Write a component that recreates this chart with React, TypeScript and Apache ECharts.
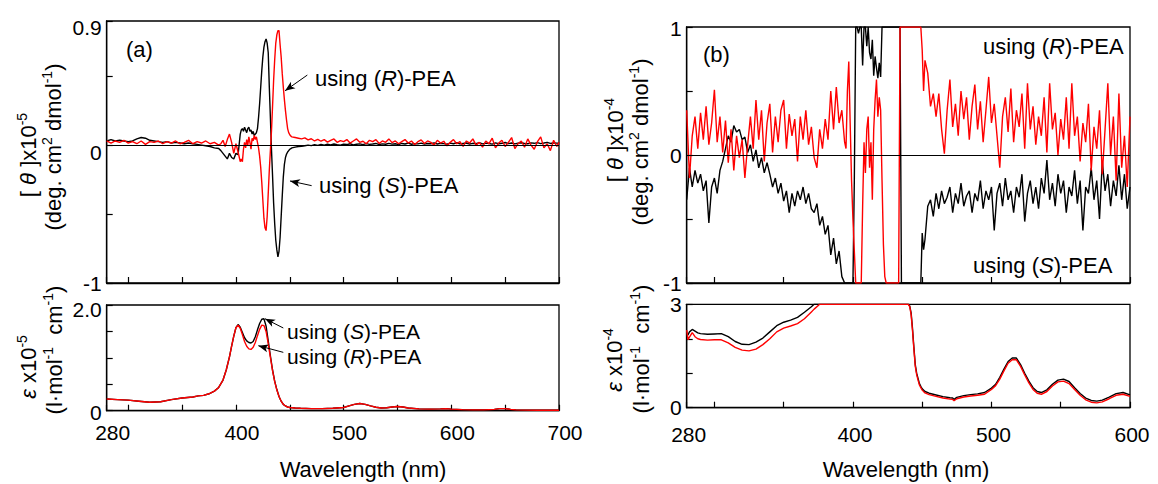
import React, { useEffect, useRef } from 'react';
import * as echarts from 'echarts';

const FONT = '"Liberation Sans", Arial, sans-serif';
const FS = 22;
const TFS = 21;

// ---------- Panel (a) CD ----------
const WL_A_CD = [
  280, 284, 288, 292, 296, 300, 304, 308, 312, 316, 320, 324, 328, 332, 336, 340, 344, 348, 352, 356, 360, 364, 368, 372, 376, 380, 384,
  386, 388, 390, 392, 394, 396, 398, 400, 402, 404,
  405, 406, 407, 408, 409, 410, 411, 412, 413, 414, 415, 416, 417, 418, 419, 420, 421, 422, 423, 424,
  425, 426, 427, 428, 429, 430, 431, 432, 433, 434, 435, 436, 437, 438, 439, 440, 441, 442, 443, 444,
  445, 446, 447, 448, 449, 450, 451, 452,
  455, 458, 461, 464, 467, 470, 473, 476, 479, 482, 485, 488, 491, 494, 497, 500, 503, 506, 509, 512,
  515, 518, 521, 524, 527, 530, 533, 536, 539, 542, 545, 548, 551, 554, 557, 560, 563, 566, 569, 572,
  575, 578, 581, 584, 587, 590, 593, 596, 599, 602, 605, 608, 611, 614, 617, 620, 623, 626, 629, 632,
  635, 638, 641, 644, 647, 650, 653, 656, 659, 662, 665, 668, 671, 674, 677, 680, 683, 686, 689, 692,
  695, 698, 700,
];
const A_CD_S = [
  0.03, 0.04, 0.03, 0.035, 0.03, 0.025, 0.03, 0.045, 0.055, 0.05, 0.035, 0.03, 0.025, 0.02, 0.025, 0.015, 0.02, 0.015, 0.01, 0.015, 0.01, 0.005, 0.0, -0.005, -0.01, -0.02, -0.025,
  -0.04, -0.06, -0.08, -0.1, -0.06, -0.09, -0.1, -0.06, -0.07, 0.08,
  0.11, 0.12, 0.1, 0.13, 0.11, 0.09, 0.12, 0.13, 0.1, 0.11, 0.08, 0.1, 0.07, 0.08, 0.09, 0.12, 0.2, 0.3, 0.42, 0.54,
  0.64, 0.71, 0.75, 0.77, 0.74, 0.67, 0.42, 0.2, -0.03, -0.22, -0.42, -0.57, -0.69, -0.76, -0.81, -0.77, -0.67, -0.52, -0.37, -0.23,
  -0.14, -0.09, -0.065, -0.05, -0.04, -0.03, -0.025, -0.02,
  -0.015, -0.01, -0.008, -0.005, 0.0, -0.004, 0.003, -0.002, 0.005, 0.0,
  0.006, 0.002, 0.008, 0.003, 0.0, 0.007, 0.004, 0.01, 0.002, 0.006,
  0.009, 0.003, 0.011, 0.005, 0.008, 0.012, 0.004, 0.009, 0.006, 0.013,
  0.007, 0.01, 0.004, 0.012, 0.008, 0.015, 0.006, 0.011, 0.009, 0.014,
  0.007, 0.012, 0.01, 0.016, 0.008, 0.013, 0.011, 0.006, 0.014, 0.01,
  0.017, 0.009, 0.012, 0.015, 0.008, 0.013, 0.011, 0.018, 0.009, 0.014,
  0.012, 0.007, 0.016, 0.01, 0.013, 0.019, 0.011, 0.015, 0.009, 0.014,
  0.017, 0.012, 0.01, 0.016, 0.013, 0.018, 0.011, 0.015, 0.02, 0.012,
  0.016, 0.014, 0.013,
];
const A_CD_R = [
  0.03, 0.015, 0.03, 0.02, 0.035, 0.015, 0.025, 0.01, 0.03, 0.005, 0.025, 0.02, 0.03, 0.01, 0.025, 0.015, 0.03, 0.01, 0.02, 0.035, 0.01, 0.025, 0.015, 0.03, 0.01, 0.02, 0.0,
  0.01, 0.035, -0.01, 0.04, 0.08, 0.02, -0.06, 0.01, -0.05, -0.12,
  -0.1, -0.12, -0.03, 0.02, -0.02, 0.04, 0.0, 0.06, 0.02, -0.03, 0.05, 0.03, 0.07, 0.04, 0.06, 0.02, -0.02, -0.08, -0.16, -0.27,
  -0.4, -0.53, -0.6, -0.62, -0.52, -0.35, -0.18, -0.04, 0.1, 0.28, 0.47, 0.62, 0.74, 0.8, 0.83, 0.83, 0.73, 0.64, 0.52, 0.42,
  0.33, 0.25, 0.18, 0.12, 0.09, 0.075, 0.065, 0.06,
  0.055, 0.05, 0.045, 0.052, 0.038, 0.046, 0.03, 0.042, 0.028, 0.04,
  0.022, 0.035, 0.045, 0.02, 0.033, 0.025, 0.04, 0.015, 0.03, 0.045,
  0.02, 0.028, 0.01, 0.035, 0.025, 0.04, 0.012, 0.03, 0.02, 0.045,
  0.018, 0.03, 0.01, 0.025, 0.04, 0.015, 0.03, 0.005, 0.025, 0.038,
  0.012, 0.03, 0.02, 0.0, 0.035, 0.015, 0.028, -0.005, 0.02, 0.04,
  0.01, 0.025, -0.01, 0.03, 0.015, 0.045, 0.0, 0.02, -0.015, 0.03,
  0.01, 0.05, -0.02, 0.015, 0.035, -0.01, 0.02, 0.055, -0.025, 0.01,
  0.03, -0.015, 0.045, 0.0, -0.03, 0.025, 0.06, -0.02, 0.01, -0.04,
  0.035, -0.01, 0.02,
];

// ---------- Panel (a) absorption ----------
const WL_A_UV = [
  280, 290, 300, 310, 320, 330, 340, 350, 360,
  365, 370, 375, 380, 384, 388, 391, 394, 396, 398,
  400, 402, 404, 406, 408, 410, 412, 414, 416, 418, 420, 422, 424, 426, 428, 430, 432, 434, 436, 438, 440, 442, 444, 446, 448, 450,
  455, 460, 470, 480, 490, 500, 505, 510, 515, 520,
  525, 530, 535, 540, 545, 550, 555, 560, 570, 580,
  590, 595, 600, 610, 620, 630, 640, 645, 650, 655,
  660, 670, 680, 690, 700,
];
const A_UV_S = [
  0.22, 0.21, 0.2, 0.18, 0.16, 0.17, 0.21, 0.24, 0.26,
  0.28, 0.29, 0.32, 0.37, 0.44, 0.58, 0.77, 1.02, 1.22, 1.41,
  1.57, 1.63, 1.58, 1.48, 1.38, 1.32, 1.29, 1.28, 1.31, 1.4, 1.53, 1.65, 1.73, 1.74, 1.6, 1.32, 1.04, 0.77, 0.56, 0.4, 0.27, 0.18, 0.12, 0.09, 0.07, 0.06,
  0.05, 0.045, 0.04, 0.04, 0.045, 0.06, 0.09, 0.12, 0.135, 0.12,
  0.09, 0.065, 0.05, 0.055, 0.07, 0.08, 0.07, 0.05, 0.035, 0.03,
  0.035, 0.04, 0.03, 0.02, 0.015, 0.015, 0.025, 0.04, 0.04, 0.025,
  0.015, 0.01, 0.008, 0.008, 0.008,
];
const A_UV_R = [
  0.22, 0.21, 0.2, 0.18, 0.16, 0.17, 0.21, 0.24, 0.26,
  0.28, 0.29, 0.32, 0.37, 0.44, 0.58, 0.77, 1.02, 1.22, 1.41,
  1.57, 1.62, 1.56, 1.44, 1.31, 1.22, 1.17, 1.16, 1.2, 1.29, 1.42, 1.54, 1.62, 1.61, 1.5, 1.27, 1.01, 0.76, 0.55, 0.39, 0.27, 0.18, 0.12, 0.09, 0.07, 0.06,
  0.05, 0.045, 0.04, 0.04, 0.045, 0.06, 0.09, 0.12, 0.135, 0.12,
  0.09, 0.065, 0.05, 0.055, 0.07, 0.08, 0.07, 0.05, 0.035, 0.03,
  0.035, 0.04, 0.03, 0.02, 0.015, 0.015, 0.025, 0.04, 0.04, 0.025,
  0.015, 0.01, 0.008, 0.008, 0.008,
];

// ---------- Panel (b) CD ----------
const WL_B_CD = [
  280, 282, 284, 286, 288, 290, 292, 294, 296, 298,
  300, 302, 304, 306, 308, 310, 312, 314, 316, 318,
  320, 322, 324, 326, 328, 330, 332, 334, 336, 338,
  340, 342, 344, 346, 348, 350, 352, 354, 356, 358,
  360, 362, 364, 366, 368, 370, 372, 374, 376, 378,
  380, 382, 384, 386, 388, 390, 392, 394,
  395, 396, 397, 398, 399, 400, 401, 402, 403, 404,
  405, 406, 407, 408, 409, 410, 411, 412, 413, 414,
  415, 416, 417, 418, 419, 420, 421, 422, 423, 424,
  425, 426, 427, 428, 429, 430, 431, 432, 433, 434,
  435, 436, 437, 438, 439, 440, 441, 442, 443, 444,
  445, 446, 447, 448, 449, 450, 451, 452,
  454, 456, 458, 460, 462, 464, 466, 468, 470, 472,
  474, 476, 478, 480, 482, 484, 486, 488, 490, 492,
  494, 496, 498, 500, 502, 504, 506, 508, 510, 512,
  514, 516, 518, 520, 522, 524, 526, 528, 530, 532,
  534, 536, 538, 540, 542, 544, 546, 548, 550, 552,
  554, 556, 558, 560, 562, 564, 566, 568, 570, 572,
  574, 576, 578, 580, 582, 584, 586, 588, 590, 592,
  594, 596, 598, 600,
];
const B_CD_S = [
  -0.35, -0.1, -0.25, -0.12, -0.22, -0.15, -0.28, -0.2, -0.53, -0.25,
  -0.18, -0.3, -0.12, -0.05, 0.05, 0.15, 0.1, 0.23, 0.18, 0.2,
  0.12, 0.14, 0.02, 0.08, -0.05, 0.04, -0.1, -0.02, -0.14, -0.06,
  -0.15, -0.25, -0.18, -0.3, -0.22, -0.36, -0.28, -0.45, -0.3, -0.4,
  -0.28, -0.35, -0.25, -0.38, -0.3, -0.42, -0.45, -0.38, -0.55, -0.48,
  -0.62, -0.55, -0.78, -0.65, -0.85, -0.75, -0.95, -1,
  -1, -1, -1, -1, -1, -1, -0.2, 1, 1, 0.95,
  1, 1, 0.7, 1, 1, 0.85, 1, 0.8, 0.75, 0.9,
  0.62, 0.77, 0.68, 0.6, 0.72, 0.61, 1, 1, 1, 1,
  1, 1, 1, 1, 1, 1, 1, 1, 1, 1,
  -1, -1, -1, -1, -1, -1, -1, -1, -1, -1,
  -1, -1, -1, -1, -1, -0.61, -0.74, -0.66,
  -0.4, -0.35, -0.48, -0.3, -0.42, -0.28, -0.38, -0.33, -0.25, -0.45,
  -0.3, -0.38, -0.22, -0.4, -0.32, -0.28, -0.45, -0.3, -0.36, -0.2,
  -0.42, -0.28, -0.35, -0.25, -0.59, -0.3, -0.22, -0.4, -0.18, -0.35,
  -0.28, -0.45, -0.25, -0.33, -0.15, -0.52, -0.3, -0.2, -0.38, -0.25,
  -0.42, -0.18, -0.3, -0.04, -0.35, -0.22, -0.4, -0.15, -0.3, -0.2,
  -0.45, -0.25, -0.32, -0.12, -0.38, -0.2, -0.59, -0.25, -0.3, -0.1,
  -0.35, -0.2, -0.5, -0.05, -0.28, -0.15, -0.4, -0.2, -0.32, -0.08,
  -0.35, -0.15, -0.42, -0.25,
];
const B_CD_R = [
  0.35, -0.18, 0.15, 0.3, 0.05, 0.33, 0.12, 0.38, 0.08, 0.25,
  0.51, 0.1, 0.3, 0.02, 0.27, -0.06, 0.2, -0.12, 0.15, -0.02,
  0.12, -0.18, 0.08, 0.3, 0.05, 0.43, 0.12, 0.35, -0.05, 0.25,
  0.4, 0.02, 0.3, 0.1, 0.35, 0.43, 0.05, 0.32, 0.15, 0.28,
  -0.05, 0.3, 0.12, 0.35, 0.08, 0.22, -0.02, -0.1, 0.2, 0.05,
  0.28, 0.12, 0.5, 0.2, 0.53, 0.25, 0.35, 0.1,
  0.05, 0.5, 0.73, 0.25, -0.2, -0.5, -0.75, -1, -1, -1,
  -1, -1, -0.4, 0.1, -0.14, 0.2, 0.3, -0.1, 0.1, -0.35,
  0.2, 0.43, 0.59, 0.3, 0.45, 0.35, -0.2, -0.7, -0.95, -1,
  -1, -1, -1, -1, -1, -1, -1, -1, -1, 1,
  1, 1, 1, 1, 1, 1, 1, 1, 1, 1,
  1, 1, 1, 1, 1, 0.82, 0.5, 0.74,
  0.64, 0.38, 0.48, 0.3, 0.48, 0.2, 0.01, 0.35, 0.59, 0.22,
  0.4, 0.15, 0.5, 0.28, 0.45, 0.12, 0.38, 0.55, 0.2, 0.42,
  0.1, 0.35, 0.61, 0.25, 0.4, 0.15, -0.1, 0.3, 0.45, 0.18,
  0.52, 0.1, 0.35, 0.22, 0.48, 0.05, 0.56, 0.2, 0.38, 0.08,
  0.3, 0.15, 0.45, 0.02, 0.56, 0.2, 0.33, 0.0, 0.28, 0.12,
  0.45, 0.05, 0.56, 0.15, 0.3, -0.05, 0.25, 0.1, 0.4, -0.12,
  0.22, 0.05, 0.35, -0.15, 0.2, 0.56, 0.0, 0.3, -0.2, 0.48,
  -0.1, 0.15, -0.25, 0.3,
];

// ---------- Panel (b) absorption ----------
const WL_B_UV = [
  280, 281, 282, 284, 286, 288, 290, 295, 300, 305,
  310, 315, 320, 325, 330, 335, 340, 345, 350, 355,
  360, 365, 370, 372, 376, 380, 390, 400, 410, 420,
  430, 436, 438, 440, 441, 442, 443, 444, 445, 446,
  447, 448, 449, 450, 452, 455, 460, 465, 470, 472,
  473, 475, 480, 485, 490, 495, 500, 503, 506, 509,
  512, 515, 518, 521, 524, 527, 530, 533, 536, 540,
  544, 548, 552, 556, 560, 564, 568, 572, 576, 580,
  585, 590, 595, 600,
];
const B_UV_S = [
  2.1, 2.12, 2.2, 2.27, 2.22, 2.17, 2.15, 2.13, 2.14, 2.15,
  2.06, 1.92, 1.84, 1.83, 1.9, 2.02, 2.2, 2.38, 2.48, 2.54,
  2.62, 2.77, 2.93, 3, 3, 3, 3, 3, 3, 3,
  3, 3, 3, 3, 2.95, 2.75, 2.3, 1.75, 1.25, 1.0,
  0.85, 0.7, 0.62, 0.55, 0.47, 0.42, 0.37, 0.32, 0.29, 0.28,
  0.24, 0.3, 0.35, 0.38, 0.4, 0.44, 0.57, 0.68, 0.88, 1.12,
  1.34, 1.44, 1.44, 1.25, 1.0, 0.77, 0.58, 0.47, 0.44, 0.52,
  0.68, 0.8, 0.83, 0.76, 0.58, 0.41, 0.28, 0.21, 0.19, 0.22,
  0.31, 0.41, 0.44, 0.37,
];
const B_UV_R = [
  2.25, 1.97, 2.05, 2.18, 2.06, 2.0, 1.98, 1.96, 1.97, 1.97,
  1.88, 1.75, 1.67, 1.65, 1.7, 1.83, 2.0, 2.2, 2.31, 2.37,
  2.44, 2.58, 2.78, 2.86, 3, 3, 3, 3, 3, 3,
  3, 3, 3, 3, 2.93, 2.7, 2.24, 1.7, 1.2, 0.96,
  0.8, 0.66, 0.58, 0.51, 0.43, 0.38, 0.33, 0.28, 0.25, 0.24,
  0.2, 0.26, 0.31, 0.34, 0.36, 0.39, 0.53, 0.64, 0.83, 1.07,
  1.29, 1.39, 1.39, 1.2, 0.95, 0.72, 0.53, 0.42, 0.39, 0.47,
  0.63, 0.75, 0.77, 0.7, 0.53, 0.36, 0.23, 0.16, 0.14, 0.17,
  0.26, 0.36, 0.39, 0.33,
];

const X_LABELS_A = [280, 400, 500, 600, 700];
const X_LABELS_B = [280, 400, 500, 600];
// [value, text, downward shift in px]
const Y_LABELS_A_CD: [number, string, number][] = [[-1, '-1', 0], [0, '0', 7], [0.9, '0.9', 6]];
const Y_LABELS_A_UV: [number, string, number][] = [[0, '0', 2], [2, '2.0', 4]];
const Y_LABELS_B_CD: [number, string, number][] = [[-1, '-1', 0], [0, '0', 0], [1, '1', 1]];
const Y_LABELS_B_UV: [number, string, number][] = [[0, '0', 0], [3, '3', 0]];

function pairs(x: number[], y: number[]) {
  return x.map((v, i) => [v, y[i]]);
}

const near = (a: number, b: number) => Math.abs(a - b) < 1e-6;

function xAxis(gi: number, min: number, max: number, labels: number[], show: boolean, margin: number, shift: number) {
  return {
    type: 'value', gridIndex: gi, min, max, minInterval: 50, maxInterval: 50,
    axisLine: { show: true, onZero: false, lineStyle: { color: '#000', width: 1.3 } },
    axisTick: { show: true, inside: true, length: 6, lineStyle: { color: '#000', width: 1.2 } },
    axisLabel: {
      show, showMinLabel: true, showMaxLabel: true, margin,
      fontSize: TFS, color: '#000', fontFamily: FONT,
      padding: [0, 0, 0, shift * 2],
      formatter: (v: number) => (labels.some((l) => near(l, v)) ? String(v) : ''),
    },
    splitLine: { show: false },
  };
}

function yAxis(gi: number, min: number, max: number, interval: number, labels: [number, string, number][]) {
  const rich: any = {};
  labels.forEach((l, i) => {
    rich['s' + i] = { fontSize: TFS, fontFamily: FONT, color: '#000', padding: [l[2] * 2, 0, 0, 0] };
  });
  return {
    type: 'value', gridIndex: gi, min, max, interval,
    axisLine: { show: true, onZero: false, lineStyle: { color: '#000', width: 1.3 } },
    axisTick: { show: true, inside: true, length: 6, lineStyle: { color: '#000', width: 1.2 } },
    axisLabel: {
      show: true, showMinLabel: true, showMaxLabel: true, margin: 5,
      fontSize: TFS, color: '#000', fontFamily: FONT, rich,
      formatter: (v: number) => {
        const i = labels.findIndex((l) => near(l[0], v));
        return i >= 0 ? `{s${i}|${labels[i][1]}}` : '';
      },
    },
    splitLine: { show: false },
  };
}

function richFor(lh: number, fs: number) {
  return {
    sup: { fontSize: 14, lineHeight: 14, verticalAlign: 'top', fill: '#000', fontFamily: FONT },
    it: { fontSize: fs, lineHeight: lh, fontStyle: 'italic', fill: '#000', fontFamily: FONT },
  };
}

function txt(x: number, y: number, text: string, opts: any = {}) {
  const lh = opts.lh || 26;
  const fs = opts.fs || FS;
  return {
    type: 'text', x, y, rotation: opts.rot ? Math.PI / 2 : 0, silent: true,
    style: {
      text, fill: '#000', fontSize: fs, lineHeight: lh, fontFamily: FONT,
      align: opts.align || 'left', verticalAlign: 'middle', rich: richFor(lh, fs),
    },
  };
}

function lineSeries(xi: number, data: number[][], color: string, extra: any = {}) {
  return {
    type: 'line', xAxisIndex: xi, yAxisIndex: xi, data, symbol: 'none', showSymbol: false,
    lineStyle: { color, width: 1.4 }, itemStyle: { color }, silent: true, animation: false,
    ...extra,
  };
}

const zeroLine = {
  silent: true, symbol: 'none', animation: false,
  label: { show: false },
  lineStyle: { color: '#000', width: 1, type: 'solid' },
  data: [{ yAxis: 0 }],
};

function arrows(list: number[][][]) {
  return {
    silent: true, symbol: ['none', 'arrow'], symbolSize: [6, 10], animation: false,
    label: { show: false },
    lineStyle: { color: '#000', width: 1, type: 'solid' },
    itemStyle: { color: '#000' },
    emphasis: { disabled: true },
    data: list.map(([a, b]) => [{ coord: a }, { coord: b }]),
  };
}

export default function App() {
  const ref = useRef<HTMLDivElement>(null);
  useEffect(() => {
    const chart = echarts.init(ref.current!, null, { renderer: 'svg' });
    const gridBase = { show: true, borderColor: '#000', borderWidth: 1.3, backgroundColor: 'transparent' };
    const option: any = {
      animation: false,
      grid: [
        { ...gridBase, left: 106.7, top: 21, width: 452.3, height: 262 },
        { ...gridBase, left: 106.7, top: 305, width: 452.3, height: 105.7 },
        { ...gridBase, left: 686.7, top: 27, width: 443.3, height: 256 },
        { ...gridBase, left: 686.7, top: 304.3, width: 443.3, height: 103.4 },
      ],
      xAxis: [
        xAxis(0, 280, 700, X_LABELS_A, false, 11, 6),
        xAxis(1, 280, 700, X_LABELS_A, true, 11, 6),
        xAxis(2, 280, 600, X_LABELS_B, false, 16, 2),
        xAxis(3, 280, 600, X_LABELS_B, true, 16, 2),
      ],
      yAxis: [
        yAxis(0, -1, 0.9, 0.5, Y_LABELS_A_CD),
        yAxis(1, 0, 2, 0.5, Y_LABELS_A_UV),
        yAxis(2, -1, 1, 0.5, Y_LABELS_B_CD),
        yAxis(3, 0, 3, 1, Y_LABELS_B_UV),
      ],
      series: [
        lineSeries(0, pairs(WL_A_CD, A_CD_S), '#000', { markLine: zeroLine }),
        lineSeries(0, pairs(WL_A_CD, A_CD_R), '#ff0000', {
          markLine: arrows([
            [[466.3, 0.508], [445.6, 0.394]],
            [[470.3, -0.294], [450.2, -0.26]],
          ]),
        }),
        lineSeries(1, pairs(WL_A_UV, A_UV_S), '#000'),
        lineSeries(1, pairs(WL_A_UV, A_UV_R), '#ff0000', {
          markLine: arrows([
            [[444, 1.565], [427, 1.74]],
            [[444, 1.104], [420.8, 1.23]],
          ]),
        }),
        lineSeries(2, pairs(WL_B_CD, B_CD_S), '#000', { markLine: zeroLine }),
        lineSeries(2, pairs(WL_B_CD, B_CD_R), '#ff0000'),
        lineSeries(3, pairs(WL_B_UV, B_UV_S), '#000'),
        lineSeries(3, pairs(WL_B_UV, B_UV_R), '#ff0000'),
      ],
      graphic: [
        // y-axis titles
        txt(28, 155, '[ {it|θ} ]x10{sup|-5}', { rot: true, align: 'center' }),
        txt(53, 147, '(deg. cm{sup|2} dmol{sup|-1})', { rot: true, align: 'center' }),
        txt(28, 367, '{it|ε} x10{sup|-5}', { rot: true, align: 'center' }),
        txt(54, 350, '(l·mol{sup|-1}  cm{sup|-1})', { rot: true, align: 'center' }),
        txt(615, 140, '[ {it|θ} ]x10{sup|-4}', { rot: true, align: 'center' }),
        txt(640, 142, '(deg. cm{sup|2} dmol{sup|-1})', { rot: true, align: 'center' }),
        txt(614, 360, '{it|ε} x10{sup|-4}', { rot: true, align: 'center' }),
        txt(641, 349, '(l·mol{sup|-1}  cm{sup|-1})', { rot: true, align: 'center' }),
        // x-axis titles
        txt(363, 469, 'Wavelength (nm)', { align: 'center' }),
        txt(906, 469, 'Wavelength (nm)', { align: 'center' }),
        // panel labels
        txt(126, 49, '(a)'),
        txt(703, 54, '(b)'),
        // annotations
        txt(315, 78, 'using ({it|R})-PEA'),
        txt(319, 185, 'using ({it|S})-PEA'),
        txt(287, 331, 'using ({it|S})-PEA', { lh: 21, fs: 21 }),
        txt(287, 356, 'using ({it|R})-PEA', { lh: 21, fs: 21 }),
        txt(983, 46, 'using ({it|R})-PEA'),
        txt(973, 265, 'using ({it|S})-PEA'),
      ],
    };
    chart.setOption(option);
    return () => chart.dispose();
  }, []);
  return <div ref={ref} style={{ position: 'absolute', left: 0, top: 0, width: 1158, height: 484 }} />;
}
